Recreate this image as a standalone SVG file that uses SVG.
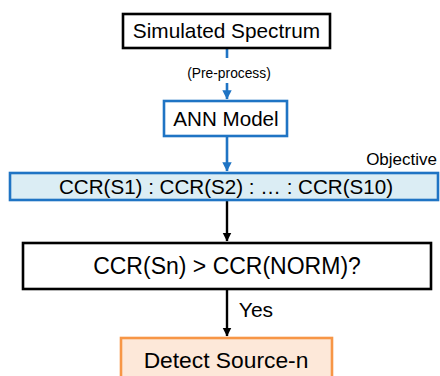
<svg xmlns="http://www.w3.org/2000/svg" width="440" height="376" viewBox="0 0 440 376">
<defs>
<style>
text{font-family:"Liberation Sans",Arial,sans-serif;fill:#000;text-anchor:middle}
.blk{fill:#fff;stroke:#000;stroke-width:2.6}
.blu{fill:#fff;stroke:#1f74c4;stroke-width:2.6}
.bar{fill:#dbedf4;stroke:#1f74c4;stroke-width:2.6}
.org{fill:#fde8d9;stroke:#f79646;stroke-width:2.6}
.cb{stroke:#1f74c4;stroke-width:2.6;fill:none}
.ck{stroke:#000;stroke-width:2.4;fill:none}
</style>
<marker id="ab" markerWidth="4" markerHeight="4" refX="3.4" refY="2" orient="auto" markerUnits="strokeWidth"><path d="M0,0.2 L3.6,2 L0,3.8 z" fill="#1f74c4"/></marker>
<marker id="ak" markerWidth="4" markerHeight="4" refX="3.4" refY="2" orient="auto" markerUnits="strokeWidth"><path d="M0,0.2 L3.6,2 L0,3.8 z" fill="#000"/></marker>
</defs>
<g id="connectors">
<line class="cb" x1="227" y1="49" x2="227" y2="58"/>
<line class="cb" x1="227" y1="83" x2="227" y2="99" marker-end="url(#ab)"/>
<line class="cb" x1="227" y1="137" x2="227" y2="171" marker-end="url(#ab)"/>
<line class="ck" x1="227" y1="201" x2="227" y2="241" marker-end="url(#ak)"/>
<line class="ck" x1="227" y1="290" x2="227" y2="336" marker-end="url(#ak)"/>
<text x="229" y="78" font-size="13.8">(Pre-process)</text>
<text x="256" y="317" font-size="21">Yes</text>
</g>
<g id="sim">
<rect class="blk" x="123" y="14" width="207" height="34"/>
<text x="226.5" y="38" font-size="20.8">Simulated Spectrum</text>
</g>
<g id="ann">
<rect class="blu" x="164" y="101" width="123" height="35"/>
<text x="226" y="126" font-size="20.6">ANN Model</text>
</g>
<g id="ccr">
<text x="437" y="165" font-size="17" style="text-anchor:end">Objective</text>
<rect class="bar" x="10" y="173" width="428" height="27"/>
<text x="226" y="194" font-size="20.6">CCR(S1) : CCR(S2) : … : CCR(S10)</text>
</g>
<g id="decision">
<rect class="blk" x="23" y="243" width="408" height="46"/>
<text x="227" y="274" font-size="23">CCR(Sn) &gt; CCR(NORM)?</text>
</g>
<g id="detect">
<rect class="org" x="121" y="338" width="211" height="50"/>
<text x="226" y="368" font-size="22.8">Detect Source-n</text>
</g>
</svg>
